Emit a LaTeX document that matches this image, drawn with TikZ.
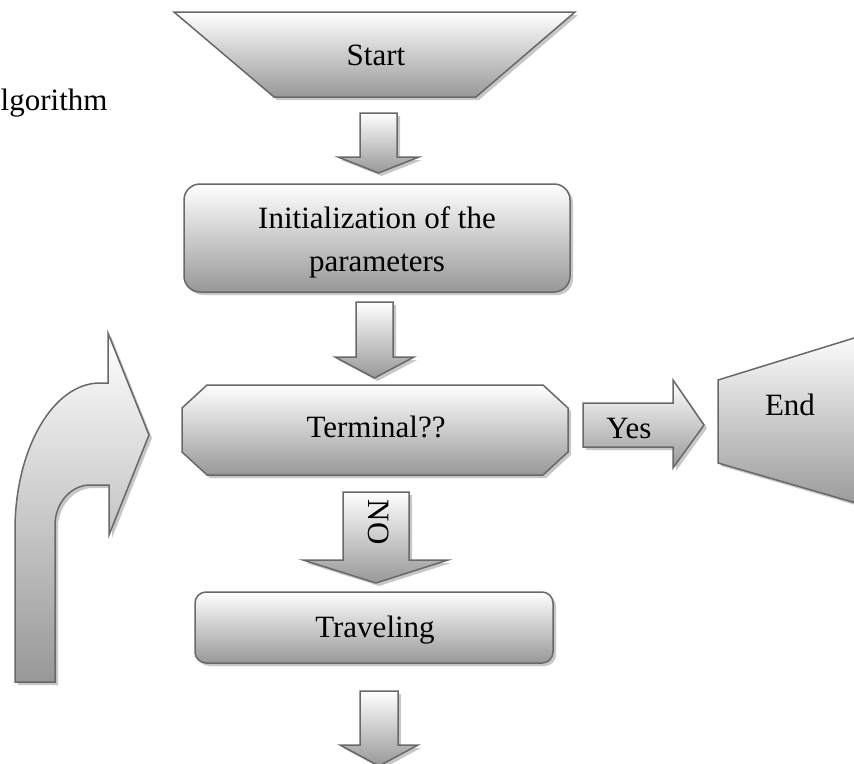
\documentclass[tikz,border=0pt]{standalone}
\usepackage{fontspec}
\setmainfont{Liberation Serif}
\usetikzlibrary{shadows}
\definecolor{edgegray}{RGB}{104,104,104}
\definecolor{shadegray}{RGB}{152,152,152}
\begin{document}
\begin{tikzpicture}[x=1pt,y=-1pt,
  shape3d/.style={draw=edgegray, line width=1.5pt, line join=miter,
    top color=white, bottom color=shadegray,
    drop shadow={shadow xshift=3pt,shadow yshift=-3pt,fill=black!22,opacity=1}},
  txt/.style={font=\fontsize{31}{37}\selectfont, inner sep=0pt, anchor=base}]
\useasboundingbox (0,0) rectangle (854,763);
\clip (0,0) rectangle (854,763);

% caption fragment at the left edge
\node[txt, anchor=base west] (algo) at (0.5,110) {lgorithm};

% Start: inverted trapezoid
\path[shape3d] (174,12) -- (575,12) -- (476,97) -- (274,97) -- cycle;
\node[txt] (start) at (376,65) {Start};

% block arrow Start -> initialization
\path[shape3d] (360,113) -- (397,113) -- (397,157) -- (419,157) -- (378.5,173)
  -- (338,157) -- (360,157) -- cycle;

% initialization box
\path[shape3d, rounded corners=16pt] (184,184) rectangle (570,292);
\node[txt] (init1) at (377,228) {Initialization of the};
\node[txt] (init2) at (377,271) {parameters};

% block arrow initialization -> test
\path[shape3d] (356,302) -- (393,302) -- (393,357) -- (414,357) -- (374.5,378)
  -- (335,357) -- (356,357) -- cycle;

% terminal test: box with snipped corners
\path[shape3d] (207,385) -- (543,385) -- (568,408) -- (568,452) -- (543,475)
  -- (207,475) -- (182,452) -- (182,408) -- cycle;
\node[txt] (term) at (376,437) {Terminal??};

% Yes arrow
\path[shape3d] (583,403) -- (673,403) -- (673,380) -- (704,425) -- (673,468)
  -- (673,447) -- (583,447) -- cycle;
\node[txt] (yes) at (629,438) {Yes};

% End: sideways trapezoid running off the right edge
\path[shape3d] (718,380) -- (880,330) -- (880,510) -- (718,463) -- cycle;
\node[txt] (endlbl) at (790,415) {End};

% NO arrow
\path[shape3d] (343,492) -- (409,492) -- (409,560) -- (448,560) -- (376,583)
  -- (303,560) -- (343,560) -- cycle;
\node[font=\fontsize{31}{37}\selectfont, inner sep=0pt, rotate=-90] (no) at (379,522) {NO};

% traveling box
\path[shape3d, rounded corners=11pt] (195,592) rectangle (553,663);
\node[txt] (travel) at (375,637) {Traveling};

% block arrow leaving the bottom
\path[shape3d] (360,691) -- (398,691) -- (398,745) -- (418,745) -- (379,766)
  -- (340,745) -- (360,745) -- cycle;

% bent loop-back arrow on the left
\path[shape3d] (15,682) -- (15,530) .. controls (15,449) and (53,383) .. (100,383)
  -- (108,383) -- (108,333) -- (149,435) -- (109,535) -- (109,485) -- (90,485)
  .. controls (71,485) and (55,503) .. (55,525) -- (55,682) -- cycle;
\end{tikzpicture}
\end{document}
